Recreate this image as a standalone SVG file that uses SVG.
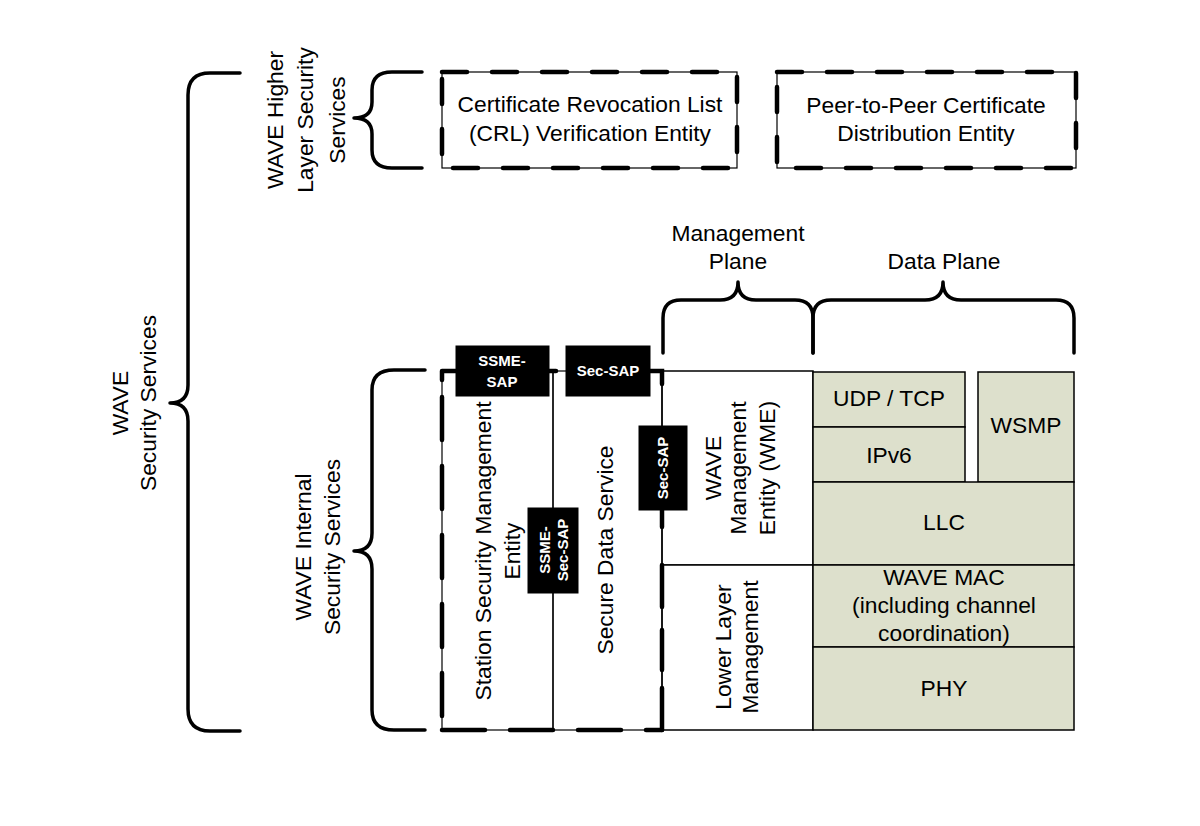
<svg xmlns="http://www.w3.org/2000/svg" width="1200" height="826" viewBox="0 0 1200 826">
<style>
text{font-family:"Liberation Sans",Arial,sans-serif;fill:#000}
.t{font-size:22.8px;text-anchor:middle}
.b{font-size:15px;font-weight:bold;fill:#fff;text-anchor:middle}
.brace{fill:none;stroke:#000;stroke-width:3.5;stroke-linejoin:round;stroke-linecap:round}
.thin{fill:none;stroke:#000;stroke-width:1.2}
.dash{fill:none;stroke:#000;stroke-width:4.5;stroke-linecap:round}
.green{fill:#dde0cc;stroke:#000;stroke-width:1.5}
.white{fill:#fff;stroke:#000;stroke-width:1.5}
.sap{fill:#000;stroke:#000;stroke-width:1}
</style>
<rect width="1200" height="826" fill="#fff"/>

<g id="braces">
<path class="brace" d="M240,73 L210,73 Q188,73 188,95 L188,385 Q188,403 170,403 Q188,403 188,421 L188,709 Q188,731 210,731 L240,731"/>
<path class="brace" d="M422,72 L392,72 Q372,72 372,90 L372,102 Q372,118 354,118 Q372,118 372,134 L372,150 Q372,168 392,168 L422,168"/>
<path class="brace" d="M425,370 L394,370 Q372,370 372,390 L372,533 Q372,551 354,551 Q372,551 372,569 L372,710 Q372,730 394,730 L425,730"/>
<path class="brace" d="M663,353 L663,318 Q663,300 681,300 L720,300 Q738,300 738,282 Q738,300 756,300 L795,300 Q813,300 813,318 L813,353"/>
<path class="brace" d="M813,353 L813,318 Q813,300 831,300 L925,300 Q943,300 943,282 Q943,300 961,300 L1056,300 Q1074,300 1074,318 L1074,353"/>
</g>

<g id="brace-labels">
<text class="t" transform="rotate(-90 128 403)" x="128" y="403">WAVE</text>
<text class="t" transform="rotate(-90 156 403)" x="156" y="403">Security Services</text>
<text class="t" transform="rotate(-90 283 120)" x="283" y="120">WAVE Higher</text>
<text class="t" transform="rotate(-90 313 120)" x="313" y="120">Layer Security</text>
<text class="t" transform="rotate(-90 345 120)" x="345" y="120">Services</text>
<text class="t" transform="rotate(-90 311 547)" x="311" y="547">WAVE Internal</text>
<text class="t" transform="rotate(-90 340 547)" x="340" y="547">Security Services</text>
<text class="t" x="738" y="241">Management</text>
<text class="t" x="738" y="269">Plane</text>
<text class="t" x="944" y="269">Data Plane</text>
</g>

<g id="crl">
<rect class="thin" x="442" y="72" width="295" height="96" fill="#fff"/>
<rect class="dash" x="442" y="72" width="295" height="96" stroke-dasharray="25 25" stroke-linecap="butt"/>
<text class="t" x="590" y="112">Certificate Revocation List</text>
<text class="t" x="590" y="141">(CRL) Verification Entity</text>
</g>

<g id="p2p">
<rect class="thin" x="777" y="72" width="299" height="96" fill="#fff"/>
<rect class="dash" x="777" y="72" width="299" height="96" stroke-dasharray="25 25" stroke-linecap="butt"/>
<text class="t" x="926" y="113">Peer-to-Peer Certificate</text>
<text class="t" x="926" y="141">Distribution Entity</text>
</g>

<g id="wme">
<rect class="white" x="662" y="371" width="151" height="194"/>
<text class="t" transform="rotate(-90 721 468)" x="721" y="468">WAVE</text>
<text class="t" transform="rotate(-90 746 468)" x="746" y="468">Management</text>
<text class="t" transform="rotate(-90 775 468)" x="775" y="468">Entity (WME)</text>
</g>

<g id="llm">
<rect class="white" x="662" y="565" width="151" height="165"/>
<text class="t" transform="rotate(-90 731 647)" x="731" y="647">Lower Layer</text>
<text class="t" transform="rotate(-90 758 647)" x="758" y="647">Management</text>
</g>

<g id="udp">
<rect class="green" x="813" y="372" width="152" height="55"/>
<text class="t" x="889" y="406">UDP / TCP</text>
</g>
<g id="ipv6">
<rect class="green" x="813" y="427" width="152" height="55"/>
<text class="t" x="889" y="463">IPv6</text>
</g>
<g id="wsmp">
<rect class="green" x="978" y="372" width="96" height="110"/>
<text class="t" x="1026" y="433">WSMP</text>
</g>
<g id="llc">
<rect class="green" x="813" y="482" width="261" height="83"/>
<text class="t" x="944" y="530">LLC</text>
</g>
<g id="mac">
<rect class="green" x="813" y="565" width="261" height="82"/>
<text class="t" x="944" y="585">WAVE MAC</text>
<text class="t" x="944" y="613">(including channel</text>
<text class="t" x="944" y="641">coordination)</text>
</g>
<g id="phy">
<rect class="green" x="813" y="647" width="261" height="83"/>
<text class="t" x="944" y="696">PHY</text>
</g>

<g id="ssme">
<rect class="thin" x="442" y="371" width="111" height="359"/>
<path class="dash" d="M442,397 L442,730" stroke-dasharray="43 26" stroke-linecap="butt"/>
<path class="dash" d="M442,730 L662,730" stroke-dasharray="43 25" stroke-linecap="butt"/>
<path class="dash" d="M442,371 L456,371 M549,371 L556,371 M442,371 L442,380" stroke-linecap="butt"/>
<text class="t" transform="rotate(-90 491 551)" x="491" y="551">Station Security Management</text>
<text class="t" transform="rotate(-90 520 551)" x="520" y="551">Entity</text>
</g>

<g id="sds">
<rect class="thin" x="553" y="371" width="109" height="359"/>
<path class="dash" d="M650,371 L662,371 L662,384 M662,510 L662,527 M662,565 L662,607 M662,630 L662,670 M662,688 L662,730" stroke-linecap="butt"/>
<text class="t" transform="rotate(-90 613 550)" x="613" y="550">Secure Data Service</text>
</g>

<g id="ssme-sap">
<rect class="sap" x="456" y="346" width="93" height="50"/>
<text class="b" x="502" y="366">SSME-</text>
<text class="b" x="502" y="387">SAP</text>
</g>
<g id="sec-sap-top">
<rect class="sap" x="566" y="346" width="84" height="50"/>
<text class="b" x="608" y="376">Sec-SAP</text>
</g>
<g id="sec-sap-side">
<rect class="sap" x="639" y="426" width="48" height="84"/>
<text class="b" transform="rotate(-90 668 468)" x="668" y="468">Sec-SAP</text>
</g>
<g id="ssme-sec-sap">
<rect class="sap" x="528" y="508" width="50" height="85"/>
<text class="b" transform="rotate(-90 550 550)" x="550" y="550">SSME-</text>
<text class="b" transform="rotate(-90 568 550)" x="568" y="550">Sec-SAP</text>
</g>
</svg>
